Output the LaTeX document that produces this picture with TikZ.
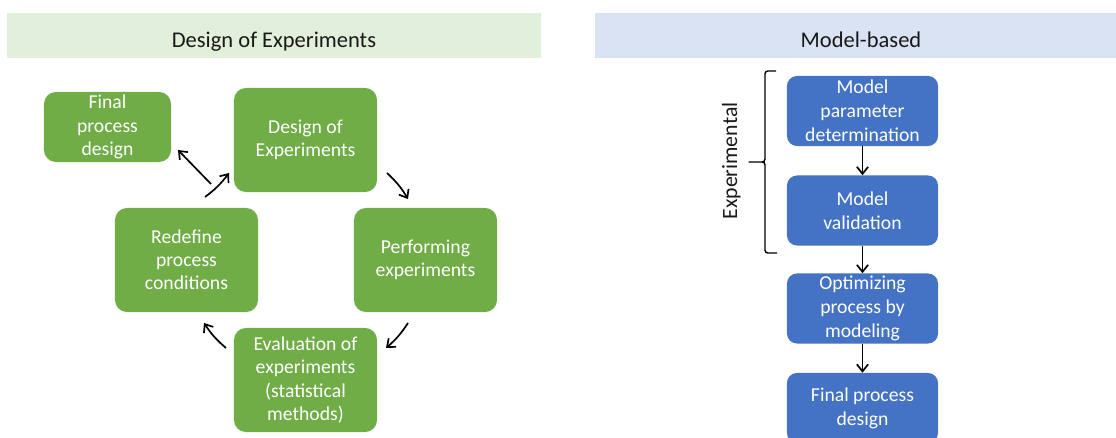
\documentclass[tikz,border=0pt]{standalone}
\usepackage{fontspec}
\setmainfont{Carlito}
\usetikzlibrary{positioning,arrows.meta}

\definecolor{doegreen}{HTML}{70AD47}
\definecolor{doehead}{HTML}{E2EFDA}
\definecolor{modelblue}{HTML}{4472C4}
\definecolor{modelhead}{HTML}{DAE3F3}

\begin{document}
\begin{tikzpicture}
    [%%%%%%%%%%%%%%%%%%%%%%%%%%%%%%
    x=0.025cm, y=-0.025cm,
    head/.style={anchor=base,text=black!90,font=\fontsize{16}{19}\selectfont},
    gbox/.style={rectangle,rounded corners=0.3cm,fill=doegreen,text=white,align=center,
        inner sep=0pt,minimum width=3.575cm,minimum height=2.6cm,font=\fontsize{14}{16.5}\selectfont},
    bbox/.style={rectangle,rounded corners=0.25cm,fill=modelblue,text=white,align=center,
        inner sep=0pt,minimum width=3.775cm,minimum height=1.75cm,font=\fontsize{14}{17}\selectfont},
    arr/.style={-{Straight Barb[length=5pt,width=8pt]},line width=1.2pt},
    ]%%%%%%%%%%%%%%%%%%%%%%%%%%%%%%

    \useasboundingbox (0,0) rectangle (1116,438);

    % headers
    \fill[doehead] (7,13) rectangle (541,58);
    \node[head] at (274,48) (doe_title) {Design of Experiments};
    \fill[modelhead] (595,13) rectangle (1116,58);
    \node[head] at (861,48) (model_title) {Model-based};

    % design of experiments cycle
    \node[gbox,minimum width=3.175cm,minimum height=1.75cm] at (107.5,127) (final) {Final\\process\\design};
    \node[gbox] at (305.5,140) (doe) {Design of\\Experiments};
    \node[gbox] at (425.5,260) (perform) {Performing\\experiments};
    \node[gbox] at (186.5,260) (redefine) {Redefine\\process\\conditions};
    \node[gbox] at (305.5,380) (evaluate) {Evaluation of\\experiments\\(statistical\\methods)};

    \coordinate (redef_out) at (205,197);
    \coordinate (doe_in) at (229,173);
    \coordinate (final_out) at (211,184);
    \coordinate (final_in) at (178,150);
    \coordinate (doe_out) at (387,173);
    \coordinate (perf_in) at (408,199);
    \coordinate (perf_out) at (408,323);
    \coordinate (eval_in) at (386,348);
    \coordinate (eval_out) at (226,348);
    \coordinate (redef_in) at (204,323);

    \draw[arr] (redef_out) to[bend right=8] (doe_in);
    \draw[arr] (final_out) -- (final_in);
    \draw[arr] (doe_out) to[bend left=8] (perf_in);
    \draw[arr] (perf_out) to[bend left=8] (eval_in);
    \draw[arr] (eval_out) to[bend left=8] (redef_in);

    % model-based chain
    \node[bbox] at (862.5,111) (param) {Model\\parameter\\determination};
    \node[bbox] at (862.5,210.5) (valid) {Model\\validation};
    \node[bbox] at (862.5,308.5) (optim) {Optimizing\\process by\\modeling};
    \node[bbox] at (862.5,408) (final_m) {Final process\\design};

    \draw[arr] (param) -- (valid);
    \draw[arr] (valid) -- (optim);
    \draw[arr] (optim) -- (final_m);

    % experimental bracket
    \draw[line width=1pt,rounded corners=2pt] (776,71) -- (765,71) -- (765,162) -- (747,162)
        -- (765,162) -- (765,253) -- (777,253);
    \node[head,rotate=90,font=\fontsize{15.5}{18}\selectfont] at (737,161) (exp_text) {Experimental};
\end{tikzpicture}
\end{document}
